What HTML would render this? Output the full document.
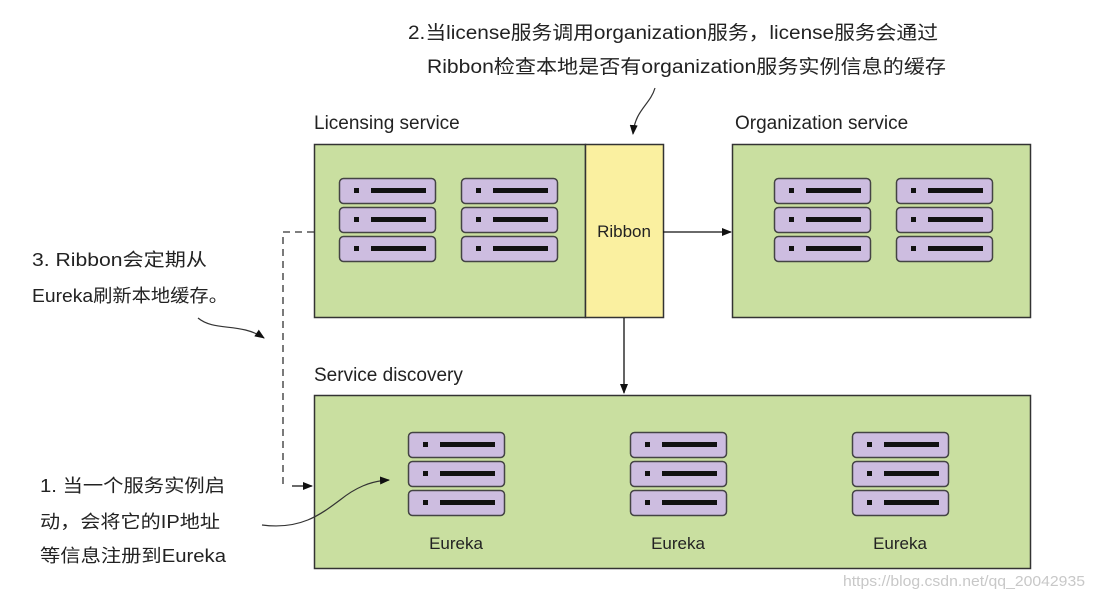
<!DOCTYPE html>
<html><head><meta charset="utf-8"><style>
html,body{margin:0;padding:0;background:#fff;}
svg{display:block;}
text{font-family:"Liberation Sans","Noto Sans CJK SC",sans-serif;}
</style></head><body>
<svg width="1094" height="598" viewBox="0 0 1094 598" xmlns="http://www.w3.org/2000/svg">
<defs>
<marker id="ah" markerWidth="10" markerHeight="8" refX="9" refY="4" orient="auto" markerUnits="userSpaceOnUse">
<path d="M0,0 L10,4 L0,8 z" fill="#111"/></marker>
<g id="srv">
<rect x="0.5" y="0.5" width="96" height="25" rx="4" fill="#cdbde0" stroke="#444" stroke-width="1.5"/>
<rect x="15" y="10" width="5" height="5" fill="#111"/>
<rect x="32" y="10" width="55" height="5" fill="#111"/>
</g>
<g id="stack">
<use href="#srv" y="0"/><use href="#srv" y="29"/><use href="#srv" y="58"/>
</g>
</defs>

<text x="408" y="39" font-size="19" fill="#222" textLength="530" lengthAdjust="spacingAndGlyphs">2.当license服务调用organization服务，license服务会通过</text>
<text x="427" y="73" font-size="19" fill="#222" textLength="519" lengthAdjust="spacingAndGlyphs">Ribbon检查本地是否有organization服务实例信息的缓存</text>
<path d="M655,88 C650,105 635,110 633,134" fill="none" stroke="#333" stroke-width="1.2" marker-end="url(#ah)"/>

<text x="314" y="129" font-size="19" fill="#222">Licensing service</text>
<text x="735" y="129" font-size="19" fill="#222">Organization service</text>
<text x="314" y="381" font-size="19" fill="#222">Service discovery</text>

<rect x="314.5" y="144.5" width="271" height="173" fill="#c9dfa0" stroke="#333" stroke-width="1.5"/>
<rect x="585.5" y="144.5" width="78" height="173" fill="#faf0a0" stroke="#333" stroke-width="1.5"/>
<text x="624" y="237" font-size="17" fill="#222" text-anchor="middle">Ribbon</text>
<use href="#stack" x="339" y="178"/>
<use href="#stack" x="461" y="178"/>

<rect x="732.5" y="144.5" width="298" height="173" fill="#c9dfa0" stroke="#333" stroke-width="1.5"/>
<use href="#stack" x="774" y="178"/>
<use href="#stack" x="896" y="178"/>

<rect x="314.5" y="395.5" width="716" height="173" fill="#c9dfa0" stroke="#333" stroke-width="1.5"/>
<use href="#stack" x="408" y="432"/>
<use href="#stack" x="630" y="432"/>
<use href="#stack" x="852" y="432"/>
<text x="456" y="549" font-size="17" fill="#222" text-anchor="middle">Eureka</text>
<text x="678" y="549" font-size="17" fill="#222" text-anchor="middle">Eureka</text>
<text x="900" y="549" font-size="17" fill="#222" text-anchor="middle">Eureka</text>

<line x1="663" y1="232" x2="731" y2="232" stroke="#111" stroke-width="1.3" marker-end="url(#ah)"/>
<line x1="624" y1="318" x2="624" y2="393" stroke="#111" stroke-width="1.3" marker-end="url(#ah)"/>
<path d="M314,232 H283 V486" fill="none" stroke="#333" stroke-width="1.3" stroke-dasharray="7,5"/>
<line x1="292" y1="486" x2="312" y2="486" stroke="#111" stroke-width="1.3" marker-end="url(#ah)"/>

<text x="32" y="266" font-size="18" fill="#222" textLength="175" lengthAdjust="spacingAndGlyphs">3. Ribbon会定期从</text>
<text x="32" y="302" font-size="18" fill="#222" textLength="196" lengthAdjust="spacingAndGlyphs">Eureka刷新本地缓存。</text>
<path d="M198,318 C215,332 240,322 264,338" fill="none" stroke="#333" stroke-width="1.2" marker-end="url(#ah)"/>

<text x="40" y="492" font-size="18" fill="#222" textLength="185" lengthAdjust="spacingAndGlyphs">1. 当一个服务实例启</text>
<text x="40" y="528" font-size="18" fill="#222" textLength="180" lengthAdjust="spacingAndGlyphs">动，会将它的IP地址</text>
<text x="40" y="562" font-size="18" fill="#222" textLength="186" lengthAdjust="spacingAndGlyphs">等信息注册到Eureka</text>
<path d="M262,525 C300,530 320,515 340,500 C355,488 370,481 389,480" fill="none" stroke="#333" stroke-width="1.2" marker-end="url(#ah)"/>

<text x="843" y="586" font-size="15" fill="#c8c8c8" textLength="242" lengthAdjust="spacingAndGlyphs">https://blog.csdn.net/qq_20042935</text>
</svg>
</body></html>
